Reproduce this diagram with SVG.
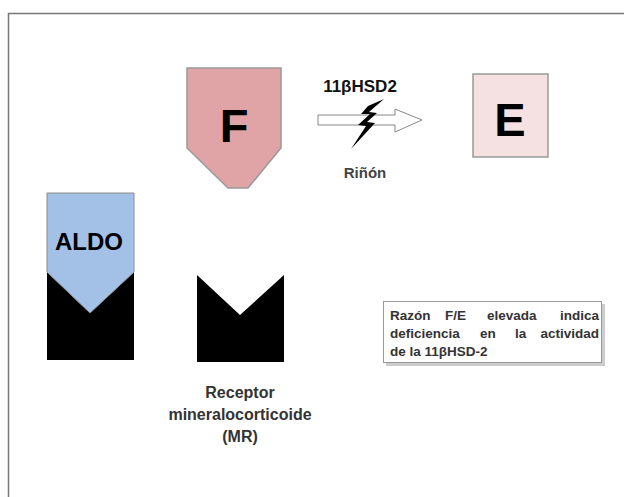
<svg xmlns="http://www.w3.org/2000/svg" width="624" height="497" viewBox="0 0 624 497">
<style>
text{font-family:"Liberation Sans",Arial,sans-serif;font-weight:bold;}
.big{font-size:47px;fill:#000;text-anchor:middle;}
.lbl{font-size:16px;fill:#333;text-anchor:middle;}
.note{font-size:13.5px;fill:#333;}
.rec{fill:#000;}
</style>
<rect width="624" height="497" fill="#fff"/>
<path d="M8.5,497 V13.5 H624" fill="none" stroke="#777" stroke-width="1.5"/>
<g id="F">
<polygon points="187,68 281,68 281,148 248,188 228,188 187,148" fill="#e0a4a7" stroke="#999" stroke-width="1.5"/>
<text class="big" x="234" y="142">F</text>
</g>
<g id="E">
<rect x="473" y="74" width="75" height="83" fill="#f5e0e2" stroke="#999" stroke-width="1.5"/>
<text class="big" x="510" y="136">E</text>
</g>
<g id="ALDO">
<polygon class="rec" points="47,272 90,313 134,272 134,360 47,360"/>
<polygon points="47,193 134,193 134,272 90,313 47,272" fill="#a3c1e6" stroke="#8a8a8a" stroke-width="1"/>
<text x="89" y="250" style="font-size:24px;fill:#000;text-anchor:middle">ALDO</text>
</g>
<g id="MR">
<polygon class="rec" points="197,275 240,315 284,275 284,362 197,362"/>
<text class="lbl" x="240" y="398">Receptor</text>
<text class="lbl" x="240" y="420">mineralocorticoide</text>
<text class="lbl" x="240" y="442">(MR)</text>
</g>
<g id="connectors">
<polygon points="318,115 395,115 395,109 422,120 395,132 395,125 318,125" fill="#fff" stroke="#888" stroke-width="1"/>
<polygon points="384,99 368,106 361,114 370,114 358,125 366,126 351,149 375,123 367,122 377,113 369,112" fill="#000"/>
<text x="360" y="92" style="font-size:17px;fill:#111;text-anchor:middle">11βHSD2</text>
<text x="365" y="178" style="font-size:15px;fill:#444;text-anchor:middle">Riñón</text>
</g>
<g id="note">
<rect x="386" y="304" width="219" height="62" fill="#ccc"/>
<rect x="383.5" y="301.5" width="218" height="61" fill="#fff" stroke="#999" stroke-width="1"/>
<text class="note" y="320"><tspan x="390">Razón</tspan><tspan x="445">F/E</tspan><tspan x="487">elevada</tspan><tspan x="599" text-anchor="end">indica</tspan></text>
<text class="note" y="338"><tspan x="390">deficiencia</tspan><tspan x="480">en</tspan><tspan x="515">la</tspan><tspan x="599" text-anchor="end">actividad</tspan></text>
<text class="note" x="390" y="356">de la 11βHSD-2</text>
</g>
</svg>
